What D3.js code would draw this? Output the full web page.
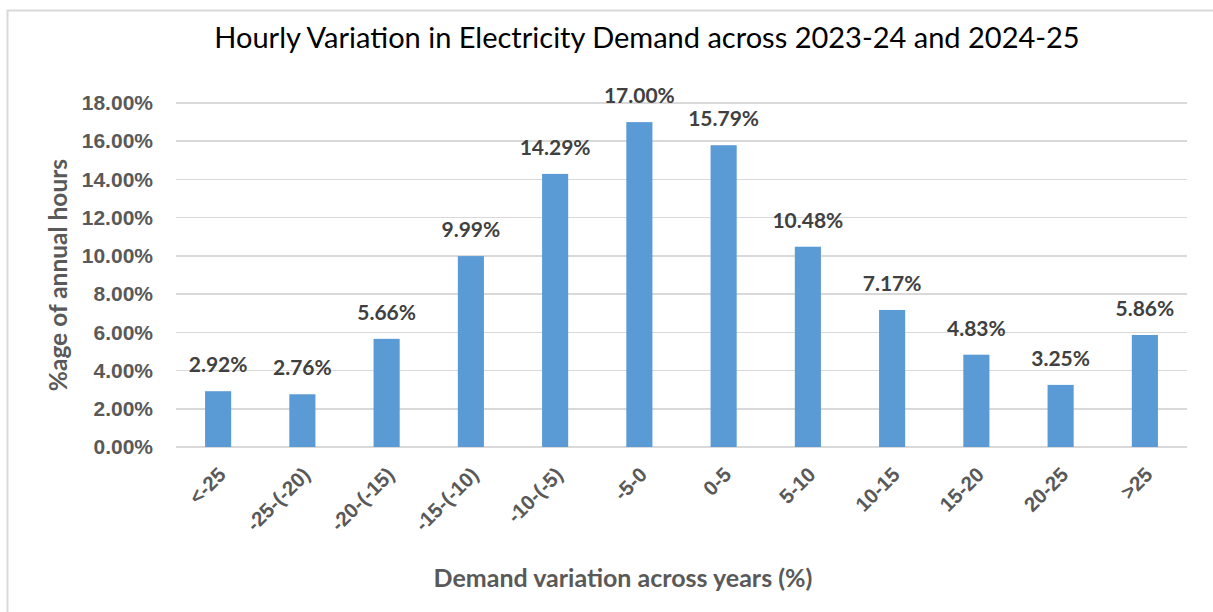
<!DOCTYPE html>
<meta charset="utf-8">
<style>
  body { margin: 0; background: white; }
  svg { display: block; background-color: white; font-family: Lato, "Open Sans", sans-serif; }
  .grid line { stroke: #d9d9d9; stroke-width: 1.5px; shape-rendering: crispEdges; }
  .y-axis text { font-size: 21px; font-weight: bold; fill: #595959; }
  .x-axis text { font-size: 20.5px; font-weight: bold; fill: #595959; }
  .bar-label { font-size: 21px; font-weight: bold; fill: #404040; }
</style>
<body>
<div id="chart"></div>
<script src="https://d3js.org/d3.v7.min.js"></script>
<script>
  var categories = ["<-25", "-25-(-20)", "-20-(-15)", "-15-(-10)", "-10-(-5)", "-5-0", "0-5", "5-10", "10-15", "15-20", "20-25", ">25"];
  var shares = [2.92, 2.76, 5.66, 9.99, 14.29, 17.00, 15.79, 10.48, 7.17, 4.83, 3.25, 5.86];
  var yTicks = [0, 2, 4, 6, 8, 10, 12, 14, 16, 18];

  var title = "Hourly Variation in Electricity Demand across 2023-24 and 2024-25",
      yTitle = "%age of annual hours",
      xTitle = "Demand variation across years (%)";

  var W = 1213, H = 612;
  var margin = {top: 103, right: 26, bottom: 165, left: 176};
  var width = 1187 - margin.left,
      height = 447 - margin.top;

  var svg = d3.select("#chart").append("svg")
      .attr("width", W)
      .attr("height", H);

  // chart frame (runs off the right and bottom of the picture)
  svg.append("rect")
      .attr("x", 7.5).attr("y", 10.5)
      .attr("width", 1300).attr("height", 700)
      .attr("fill", "none")
      .attr("stroke", "#d9d9d9")
      .attr("stroke-width", 2);

  var x = d3.scaleBand().domain(categories).range([0, width]).paddingInner(0.69).paddingOuter(0.345);
  var y = d3.scaleLinear().domain([0, 18]).range([height, 0]);

  var g = svg.append("g").attr("transform", "translate(" + margin.left + "," + margin.top + ")");

  // gridlines
  g.append("g").attr("class", "grid")
    .selectAll("line").data(yTicks).enter().append("line")
      .attr("x1", 0).attr("x2", width)
      .attr("y1", function(d) { return y(d); })
      .attr("y2", function(d) { return y(d); });

  // y axis
  var yAxis = g.append("g").attr("class", "y-axis")
      .call(d3.axisLeft(y).tickValues(yTicks).tickSize(0).tickPadding(23)
        .tickFormat(function(d) { return d3.format(".2f")(d) + "%"; }));
  yAxis.select(".domain").remove();

  // bars
  g.selectAll(".bar").data(shares).enter().append("rect")
      .attr("class", "bar")
      .attr("x", function(d, i) { return x(categories[i]); })
      .attr("width", x.bandwidth())
      .attr("y", function(d) { return y(d); })
      .attr("height", function(d) { return height - y(d); })
      .attr("fill", "#5b9bd5");

  // data labels
  g.selectAll(".bar-label").data(shares).enter().append("text")
      .attr("class", "bar-label")
      .attr("text-anchor", "middle")
      .attr("x", function(d, i) { return x(categories[i]) + x.bandwidth() / 2; })
      .attr("y", function(d) { return y(d) - 19; })
      .text(function(d) { return d.toFixed(2) + "%"; });

  // x axis with rotated labels
  var xAxis = g.append("g").attr("class", "x-axis")
      .attr("transform", "translate(0," + height + ")")
      .call(d3.axisBottom(x).tickSize(0).tickPadding(0));
  xAxis.select(".domain").remove();
  xAxis.selectAll("text")
      .attr("text-anchor", "end")
      .attr("dy", null)
      .attr("y", 0)
      .attr("transform", "translate(9,29) rotate(-45)");

  // titles
  svg.append("text")
      .attr("x", 647).attr("y", 48)
      .attr("text-anchor", "middle")
      .attr("font-size", "29px")
      .attr("fill", "#000")
      .text(title);

  svg.append("text")
      .attr("transform", "translate(67,275) rotate(-90)")
      .attr("text-anchor", "middle")
      .attr("font-size", "24.5px")
      .attr("font-weight", "bold")
      .attr("fill", "#595959")
      .text(yTitle);

  svg.append("text")
      .attr("x", 623).attr("y", 587)
      .attr("text-anchor", "middle")
      .attr("font-size", "25px")
      .attr("font-weight", "bold")
      .attr("fill", "#595959")
      .text(xTitle);
</script>
</body>
